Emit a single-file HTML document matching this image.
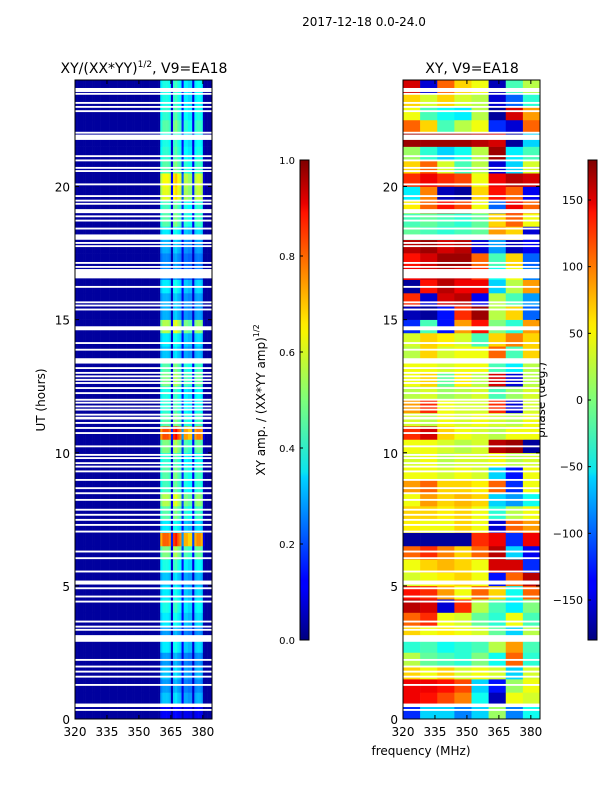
<!DOCTYPE html>
<html><head><meta charset="utf-8">
<style>
body{margin:0;background:#fff;width:600px;height:800px;overflow:hidden;}
svg text{font-family:"DejaVu Sans","Liberation Sans",sans-serif;fill:#000;}
</style></head>
<body>
<svg id="fig" width="600" height="800" viewBox="0 0 600 800" xmlns="http://www.w3.org/2000/svg">
<text x="364" y="26" font-size="12" text-anchor="middle">2017-12-18 0.0-24.0</text>
<text x="144" y="73" font-size="14" text-anchor="middle">XY/(XX*YY)<tspan font-size="9" dy="-6">1/2</tspan><tspan dy="6">, V9=EA18</tspan></text>
<text x="472" y="73" font-size="14" text-anchor="middle">XY, V9=EA18</text>
<text transform="translate(45,400) rotate(-90)" font-size="12" text-anchor="middle">UT (hours)</text>
<text x="421" y="755" font-size="12" text-anchor="middle">frequency (MHz)</text>
<text transform="translate(265,400) rotate(-90)" font-size="12" text-anchor="middle">XY amp. / (XX*YY amp)<tspan font-size="8" dy="-6">1/2</tspan></text>
<text transform="translate(545,400) rotate(-90)" font-size="12" text-anchor="middle">phase (deg.)</text>
<g id="left"></g>
<g id="right"></g>
<g id="axes"></g>
<defs>
<linearGradient id="jet" x1="0" y1="1" x2="0" y2="0">
<stop offset="0" stop-color="#00007f"/><stop offset="0.11" stop-color="#0000ff"/><stop offset="0.125" stop-color="#0000ff"/>
<stop offset="0.34" stop-color="#00d4ff"/><stop offset="0.35" stop-color="#0ae4ef"/><stop offset="0.5" stop-color="#7dff7a"/>
<stop offset="0.64" stop-color="#f7f400"/><stop offset="0.66" stop-color="#ffea00"/><stop offset="0.89" stop-color="#ff1200"/>
<stop offset="0.91" stop-color="#e80000"/><stop offset="1" stop-color="#7f0000"/>
</linearGradient>
</defs>
<rect x="300" y="160" width="9" height="480" fill="url(#jet)" stroke="#000" stroke-width="1"/>
<rect x="588" y="160" width="9" height="480" fill="url(#jet)" stroke="#000" stroke-width="1"/>
<g id="cbars"></g>
</svg>
<script>
// ---- data ----
const ampRowLevels = [0.12,0.32,0.28,0.32,0.28,0.36,0.28,0.36,0.4,0.36,0.32,0.4,0.5,0.78,0.36,0.46,0.55,0.44,0.46,0.42,0.5,0.8,0.46,0.42,0.4,0.5,0.46,0.32,0.36,0.55,0.3,0.3,0.36,0.26,0.26,0.3,0.36,0.46,0.44,0.6,0.62,0.46,0.42,0.4,0.46,0.42,0.4,0.4];
// 1 MHz channels from 320 to 384
const ampChannelProfile = [
0.02,0.02,0.02,0.02,0.02,0.02,0.02,0.02,0.02,0.02,0.02,0.02,0.02,0.02,0.02,0.02,0.02,0.02,0.02,0.02,
0.02,0.02,0.02,0.02,0.02,0.02,0.02,0.02,0.02,0.02,0.02,0.02,0.02,0.02,0.02,0.02,0.02,0.02,0.02,0.02,
0.9,1.0,1.0,1.0,0.95,0.2,1.05,1.1,1.0,0.95,0.35,0.9,0.9,0.85,0.85,0.25,0.9,0.95,0.95,0.9,0.12,0.02,0.02,0.02];
const phaseRows = [ // from 0h upward, 0.5h each, 8 freq bins of 8 MHz
[-120,-60,-60,-90,-60,10,-90,-40],[140,130,110,90,-40,-160,40,30],[140,140,130,110,-60,-130,10,40],[60,40,60,30,40,30,-60,30],
[20,-10,-20,-30,0,-40,100,-30],[-30,-20,-40,-30,-20,20,80,-20],[60,40,50,40,30,-10,-60,20],[100,120,40,30,-10,-30,40,-20],
[160,150,-150,120,20,-20,-50,0],[130,120,80,40,100,60,-40,100],[30,40,50,60,40,-130,100,160],[40,60,70,60,40,150,150,-120],
[100,120,90,60,100,160,-60,-140],[-170,-170,-170,-170,120,140,-120,140],[50,40,40,60,40,-150,100,80],[60,60,50,60,40,-30,20,40],
[40,80,60,70,60,-60,-80,-40],[80,100,60,60,50,100,-120,40],[40,40,30,40,30,-60,-130,40],[30,40,20,30,30,40,20,30],
[40,40,30,20,30,160,170,-170],[120,150,60,40,30,20,40,40],[30,20,40,30,40,30,20,40],[80,120,40,30,30,120,-150,30],
[20,30,10,20,30,-20,10,30],[40,60,-10,50,20,150,-150,20],[40,40,30,40,40,-20,-50,20],[20,60,30,40,40,100,-20,60],
[30,60,50,30,-20,60,90,60],[-120,-20,-130,80,130,0,-30,80],[-160,-170,-130,120,170,20,60,-100],[120,-150,150,160,-140,20,-20,-80],
[-170,130,160,140,140,-60,20,80],[140,150,160,150,120,-40,40,-90],[130,150,170,170,100,-20,60,-100],[160,170,150,160,-150,-80,-160,-140],
[-10,-20,-30,-20,-10,80,60,-150],[-20,-10,-20,-30,-10,60,100,40],[50,100,130,110,40,-100,140,100],[-50,90,-160,-170,60,130,100,-140],
[120,140,120,110,40,140,160,150],[60,100,30,-20,20,-150,-60,30],[10,-30,-60,-40,20,170,-50,-20],[170,170,170,170,160,150,-170,-60],
[100,60,-20,20,40,-120,-150,100],[40,-20,-40,-50,20,-170,150,80],[60,30,60,30,20,-150,-100,-30],[150,-150,100,60,40,-160,-20,20]
];
const thickGaps = [[23.55,23.7],[21.75,21.95],[19.0,19.15],[18.0,18.2],[16.55,16.9],[14.6,14.75],[13.35,13.55],[11.25,11.35],[5.05,5.2],[2.9,3.15],[0.45,0.58]];
const thinGaps = [23.48,23.14,22.99,22.83,22.02,21.14,20.98,20.7,20.58,20.08,19.64,19.47,19.35,18.88,18.72,18.42,17.88,17.76,17.13,16.98,16.23,15.65,15.53,15.38,14.12,13.87,13.18,13.0,12.87,12.74,12.62,12.43,12.24,11.99,11.88,11.74,11.62,11.43,11.12,10.93,10.74,10.24,9.92,9.8,9.61,9.48,9.3,8.98,8.67,8.48,8.23,7.86,7.67,7.48,7.29,7.04,6.29,6.04,5.54,4.91,4.6,4.41,3.66,3.47,3.35,2.22,1.97,1.78,1.59,1.28,0.34];
const yTicks = [0,5,10,15,20];
const xTicks = [320,335,350,365,380];
const ampCbarTicks = [0.0,0.2,0.4,0.6,0.8,1.0];
const phaseCbarTicks = [-150,-100,-50,0,50,100,150];

// ---- scales ----
const NS="http://www.w3.org/2000/svg";
const Y0=719, Y1=80, F0=320, F1=384.3;
const yS = h => Y0 - (h/24)*(Y0-Y1);
const xL = f => 75 + (f-F0)/(F1-F0)*137;
const xR = f => 403 + (f-F0)/(F1-F0)*137;
function jet(v){v=Math.max(0,Math.min(1,v));
 const r=Math.min(4*v-1.5,-4*v+4.5),g=Math.min(4*v-0.5,-4*v+3.5),b=Math.min(4*v+0.5,-4*v+2.5);
 const c=x=>Math.round(255*Math.max(0,Math.min(1,x)));return `rgb(${c(r)},${c(g)},${c(b)})`;}
function mk(tag,attrs,parent){const e=document.createElementNS(NS,tag);for(const k in attrs)e.setAttribute(k,attrs[k]);parent.appendChild(e);return e;}

const L=document.getElementById('left'), R=document.getElementById('right'), A=document.getElementById('axes'), C=document.getElementById('cbars');
const dh = 24/ampRowLevels.length;
ampRowLevels.forEach((lvl,i)=>{
  const nc=ampChannelProfile.length, df=1;
  ampChannelProfile.forEach((p,j)=>{
    const v = p<0.1 ? 0.03 : Math.min(1,lvl*p);
    const x0=xL(F0+j*df), x1=Math.min(212,xL(F0+(j+1)*df)), ya=yS((i+1)*dh), yb=yS(i*dh);
    if(x1<=x0) return;
    const r=mk('rect',{x:x0,y:ya,width:x1-x0+0.3,height:yb-ya+0.3,fill:jet(v)},L);
    
    
  });
});
const ph = 24/phaseRows.length;
phaseRows.forEach((row,i)=>{
  const df=(F1-F0)/row.length;
  row.forEach((d,j)=>{
    const x0=xR(F0+j*df), x1=xR(F0+(j+1)*df), ya=yS((i+1)*ph), yb=yS(i*ph);
    const r=mk('rect',{x:x0,y:ya,width:x1-x0+0.3,height:yb-ya+0.3,fill:jet((d+180)/360)},R);
    
    
  });
});
function gap(h0,h1){
  [[xL,L],[xR,R]].forEach(([xs,g])=>{
    const r=mk('rect',{x:xs(F0),y:yS(h1),width:137,height:Math.max(1.5,yS(h0)-yS(h1)),fill:'#fff'},g);
    
    
  });
}
thickGaps.forEach(g=>gap(g[0],g[1]));
thinGaps.forEach(h=>gap(h-0.035,h+0.035));

// axes frames & ticks
[[75,xL],[403,xR]].forEach(([x0,xs],k)=>{
  const f=mk('rect',{x:x0,y:Y1,width:137,height:Y0-Y1,fill:'none',stroke:'#000','stroke-width':1},A);
  
  
  yTicks.forEach(t=>{
    const y=yS(t);
    mk('line',{x1:x0,x2:x0+4,y1:y,y2:y,stroke:'#000'},A);
    mk('line',{x1:x0+133,x2:x0+137,y1:y,y2:y,stroke:'#000'},A);
    const tx=mk('text',{x:x0-5,y:y+5,'font-size':12,'text-anchor':'end'},A);
    tx.textContent=t;
    
    
  });
  xTicks.forEach(t=>{
    const x=xs(t);
    mk('line',{x1:x,x2:x,y1:Y0,y2:Y0-4,stroke:'#000'},A);
    mk('line',{x1:x,x2:x,y1:Y1,y2:Y1+4,stroke:'#000'},A);
    const tx=mk('text',{x:x,y:Y0+17,'font-size':12,'text-anchor':'middle'},A);
    tx.textContent=t;
    
    
  });
});
ampCbarTicks.forEach(t=>{
  const y=640-t*480;
  mk('line',{x1:300,x2:303,y1:y,y2:y,stroke:'#000'},C);
  const tx=mk('text',{x:295,y:y+4,'font-size':10,'text-anchor':'end'},C);
  tx.textContent=t.toFixed(1);
  
  
});
phaseCbarTicks.forEach(t=>{
  const y=400-t/180*240;
  mk('line',{x1:588,x2:591,y1:y,y2:y,stroke:'#000'},C);
  const tx=mk('text',{x:583,y:y+4,'font-size':11,'text-anchor':'end'},C);
  tx.textContent=t<0?'\u2212'+(-t):String(t);
  
  
});
</script>
</body></html>
